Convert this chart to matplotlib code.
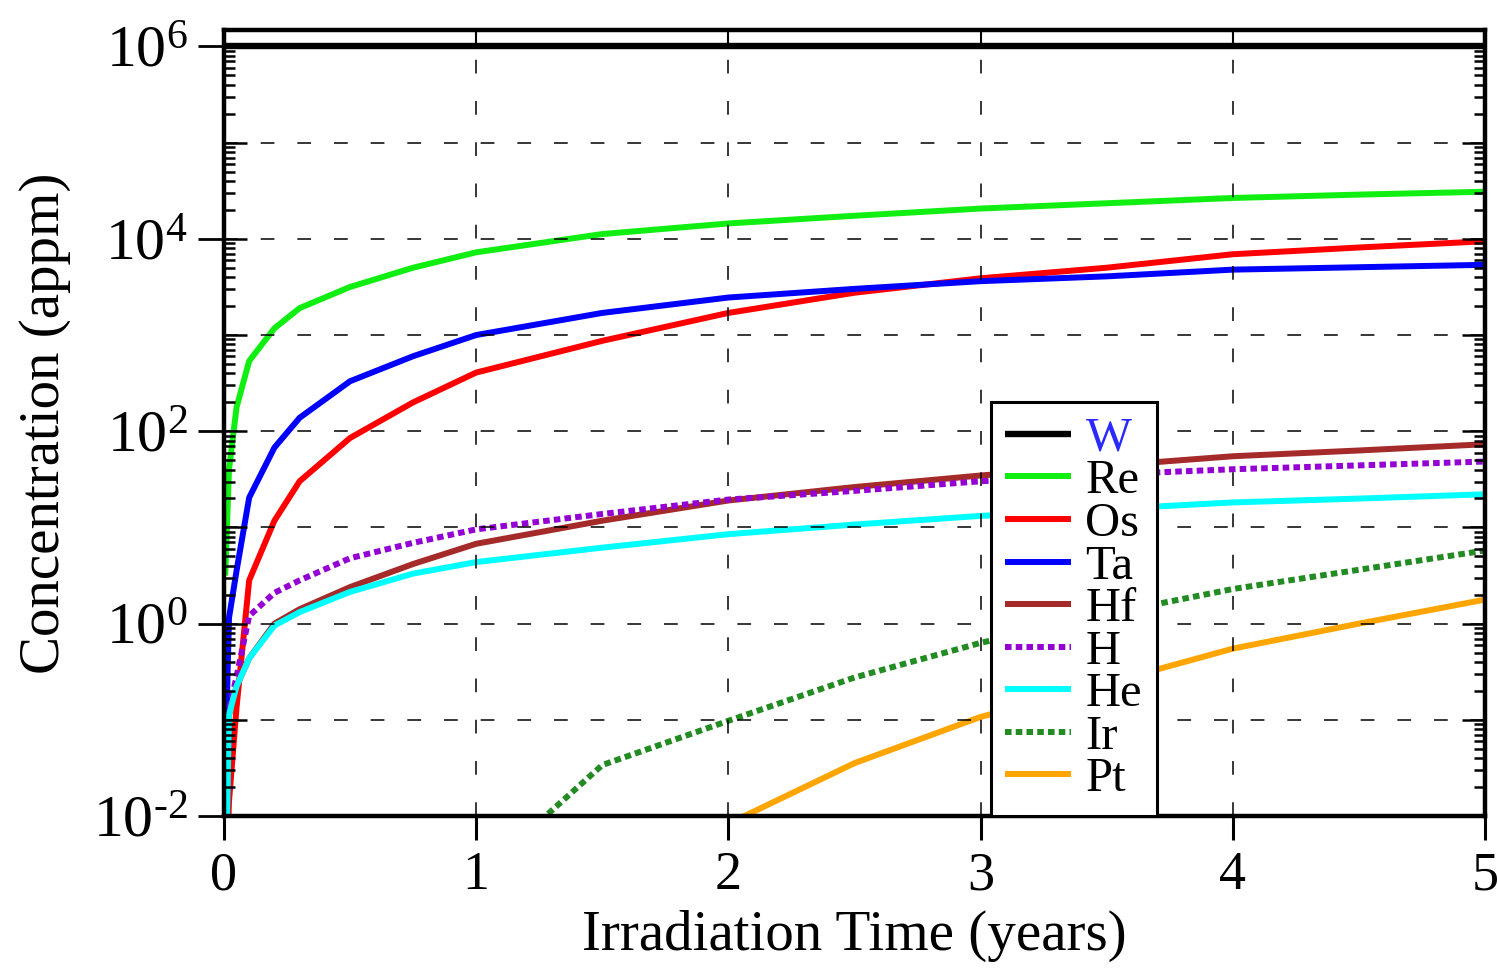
import numpy as np
import matplotlib
matplotlib.use("Agg")
import matplotlib.pyplot as plt
from matplotlib.ticker import LogLocator, NullLocator, FixedLocator

plt.rcParams['font.family'] = ['Liberation Serif', 'DejaVu Serif']
plt.rcParams['mathtext.fontset'] = 'custom'
plt.rcParams['mathtext.rm'] = 'Liberation Serif'
plt.rcParams['mathtext.it'] = 'Liberation Serif:italic'
plt.rcParams['mathtext.bf'] = 'Liberation Serif:bold'

# ---- data (irradiation time in years, concentration as log10(appm)) ----
time_years = [0.005, 0.02, 0.05, 0.1, 0.2, 0.3, 0.5, 0.75, 1.0, 1.5, 2.0, 2.5, 3.0, 3.5, 4.0, 4.5, 5.0]
nan = float('nan')
W_log = [6.0] * 17
Re_log = [0.5, 1.6, 2.25, 2.73, 3.07, 3.28, 3.5, 3.70, 3.86, 4.05, 4.16, 4.24, 4.315, 4.37, 4.425, 4.46, 4.49]
Os_log = [-3.0, -1.85, -0.87, 0.45, 1.07, 1.48, 1.93, 2.30, 2.61, 2.94, 3.23, 3.44, 3.59, 3.70, 3.84, 3.91, 3.975]
Ta_log = [-1.5, 0.06, 0.55, 1.31, 1.83, 2.14, 2.52, 2.78, 3.0, 3.23, 3.39, 3.48, 3.56, 3.61, 3.68, 3.705, 3.73]
Hf_log = [-3.0, -0.95, -0.65, -0.36, 0.0, 0.15, 0.38, 0.62, 0.83, 1.07, 1.28, 1.42, 1.54, 1.64, 1.74, 1.80, 1.865]
H_log = [-3.0, -0.9, -0.55, 0.08, 0.32, 0.45, 0.68, 0.84, 0.98, 1.14, 1.29, 1.38, 1.48, 1.55, 1.605, 1.645, 1.685]
He_log = [-3.0, -0.95, -0.65, -0.36, -0.02, 0.12, 0.33, 0.52, 0.64, 0.79, 0.93, 1.03, 1.12, 1.19, 1.26, 1.30, 1.345]
Ir_log = [nan, nan, nan, nan, nan, nan, nan, nan, -2.65, -1.47, -1.01, -0.56, -0.20, 0.10, 0.36, 0.56, 0.76]
Pt_log = [nan, nan, nan, nan, nan, nan, nan, nan, nan, -3.0, -2.08, -1.45, -0.97, -0.62, -0.26, 0.0, 0.25]

series_names = ['W', 'Re', 'Os', 'Ta', 'Hf', 'H', 'He', 'Ir', 'Pt']
series_logs = [W_log, Re_log, Os_log, Ta_log, Hf_log, H_log, He_log, Ir_log, Pt_log]
series_colors = ['#000000', '#11ee11', '#ff0000', '#0000ff', '#a52a2a', '#9400d3', '#00ffff', '#228b22', '#ffa500']
series_styles = ['-', '-', '-', '-', '-', (0, (1.1, 0.7)), '-', (0, (1.1, 0.7)), '-']

x_ticks = [0, 1, 2, 3, 4, 5]
y_label_exps = [-2, 0, 2, 4, 6]

# ---- figure ----
fig = plt.figure(figsize=(14.97, 9.71), dpi=100)
ax = fig.add_axes([0.1496, 0.1596, 0.8424, 0.8094])
ax.set_yscale('log')

t = np.array(time_years)
for name, logs, col, ls in zip(series_names, series_logs, series_colors, series_styles):
    y = 10.0 ** np.array(logs, dtype=float)
    lw = 4.6 if name == 'W' else 4.3
    ax.plot(t, y, color=col, lw=lw, ls=ls, label=name, solid_capstyle='butt', dash_capstyle='butt')

ylim = (1e-2, 10 ** 6.17)
ax.set_xlim(0, 5)
ax.set_ylim(*ylim)

ax.set_xticks(x_ticks)
ax.set_xticklabels([str(v) for v in x_ticks])
ax.set_yticks([10.0 ** e for e in y_label_exps])
ax.set_yticklabels([r'$10^{\text{-}2}$' if e < 0 else r'$10^{%d}$' % e for e in y_label_exps])
ax.yaxis.set_minor_locator(NullLocator())
ax.xaxis.set_minor_locator(NullLocator())
ax.tick_params(axis='y', which='major', direction='out', length=19, width=2.0,
               left=True, right=False, labelsize=43, pad=7)
ax.tick_params(axis='x', which='major', direction='out', length=17, width=2.2,
               bottom=True, top=False, labelsize=39, pad=8)
for sp in ax.spines.values():
    sp.set_linewidth(3.2)

ax.set_axisbelow(False)
ax.grid(axis='x', which='major', color='black', lw=1.1, ls=(0, (9, 18)))

ax.set_xlabel('Irradiation Time (years)', fontsize=41, labelpad=6)
ax.set_ylabel('Concentration (appm)', fontsize=41, labelpad=16)

# inner ticks / y grid on a twin axis
ax2 = ax.twinx()
ax2.set_yscale('log')
ax2.set_ylim(*ylim)
ax2.yaxis.set_major_locator(FixedLocator([10.0 ** e for e in range(-2, 7)]))
ax2.yaxis.set_minor_locator(LogLocator(base=10, subs=np.arange(2, 10), numticks=50))
ax2.tick_params(axis='y', which='major', direction='in', length=16.5, width=1.8,
                left=True, right=True, labelleft=False, labelright=False)
ax2.tick_params(axis='y', which='minor', direction='in', length=8, width=1.8,
                left=True, right=True, labelleft=False, labelright=False)
for sp in ax2.spines.values():
    sp.set_visible(False)
ax2.set_axisbelow(False)
ax2.grid(axis='y', which='major', color='black', lw=1.1, ls=(0, (9, 15)))

secx = ax.secondary_xaxis('top')
secx.set_xticks(x_ticks)
secx.tick_params(axis='x', direction='in', length=11, width=1.5, labeltop=False)
secx.spines['top'].set_visible(False)

handles, labels = ax.get_legend_handles_labels()
leg = ax2.legend(handles, labels, loc='lower left', bbox_to_anchor=(0.608, 0.0),
                 fontsize=35, frameon=True, fancybox=False, edgecolor='black',
                 framealpha=1, borderpad=0.3, labelspacing=-0.03, handlelength=1.35,
                 handletextpad=0.3, borderaxespad=0)
leg.get_frame().set_linewidth(2.2)
leg.get_texts()[0].set_color('#2a2aff')
leg.set_zorder(10)

fig.savefig('out.png', dpi=100)
